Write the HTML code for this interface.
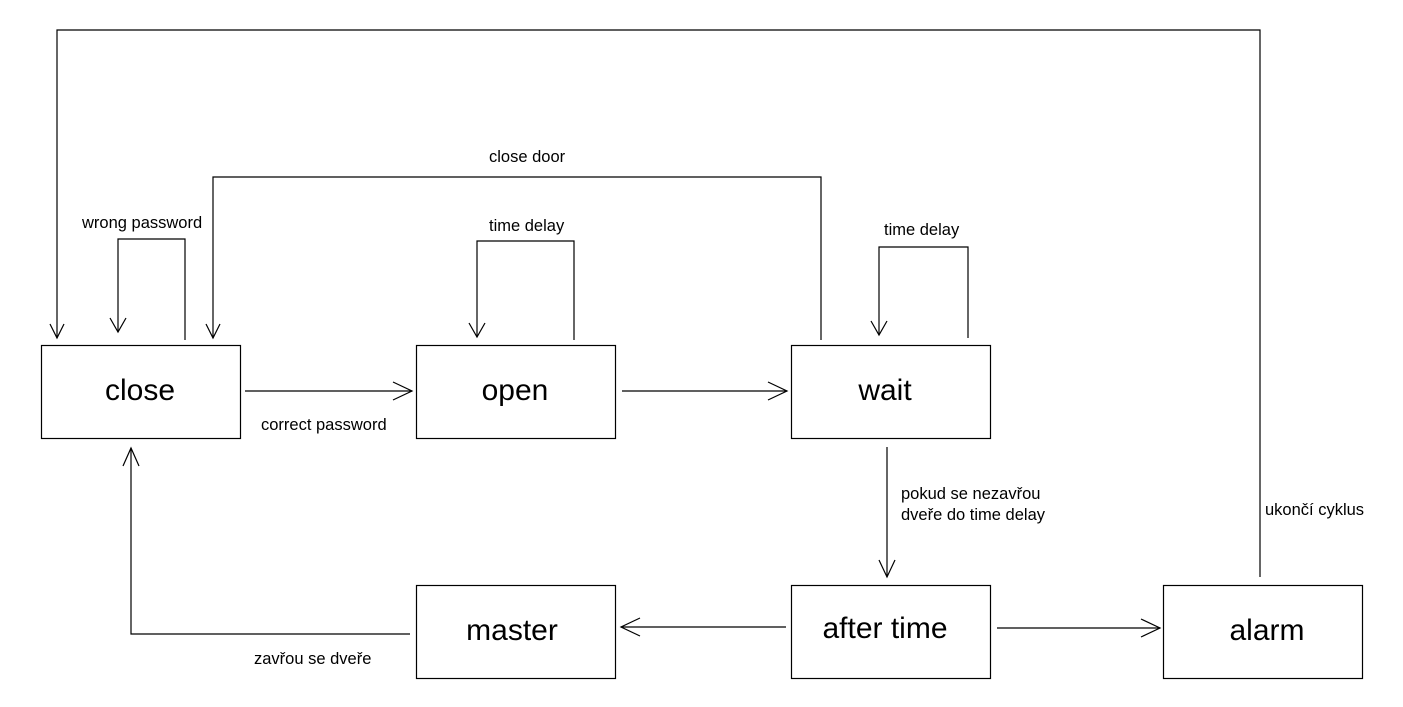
<!DOCTYPE html>
<html><head><meta charset="utf-8"><style>
html,body{margin:0;padding:0;background:#fff;}
svg{display:block;}
text{font-family:"Liberation Sans",sans-serif;fill:#000;}
.b{font-size:30px;text-anchor:middle;}
.l{font-size:16.5px;}
</style></head><body>
<svg width="1403" height="707" viewBox="0 0 1403 707" xmlns="http://www.w3.org/2000/svg">
<g fill="none" stroke="#000" stroke-width="1.2">
<rect x="41.5" y="345.5" width="199" height="93"/>
<rect x="416.5" y="345.5" width="199" height="93"/>
<rect x="791.5" y="345.5" width="199" height="93"/>
<rect x="416.5" y="585.5" width="199" height="93"/>
<rect x="791.5" y="585.5" width="199" height="93"/>
<rect x="1163.5" y="585.5" width="199" height="93"/>
<polyline points="1260,577 1260,30 57,30 57,338"/>
<polyline points="50,324 57,338 64,324"/>
<polyline points="821,340 821,177 213,177 213,338"/>
<polyline points="206,324 213,338 220,324"/>
<polyline points="185,340 185,239 118,239 118,332"/>
<polyline points="110,318 118,332 126,318"/>
<polyline points="574,340 574,241 477,241 477,337"/>
<polyline points="469,323 477,337 485,323"/>
<polyline points="968,338 968,247 879,247 879,335"/>
<polyline points="871,321 879,335 887,321"/>
<line x1="245" y1="391" x2="412" y2="391"/>
<polyline points="393,382 412,391 393,400"/>
<line x1="622" y1="391" x2="787" y2="391"/>
<polyline points="768,382 787,391 768,400"/>
<line x1="887" y1="447" x2="887" y2="577"/>
<polyline points="879,560 887,577 895,560"/>
<line x1="786" y1="627" x2="621" y2="627"/>
<polyline points="640,618 621,627 640,636"/>
<line x1="997" y1="628" x2="1160" y2="628"/>
<polyline points="1141,619 1160,628 1141,637"/>
<polyline points="410,634 131,634 131,448"/>
<polyline points="123,466 131,448 139,466"/>
</g>
<text class="b" x="140" y="400">close</text>
<text class="b" x="515" y="400">open</text>
<text class="b" x="885" y="400">wait</text>
<text class="b" x="512" y="640">master</text>
<text class="b" x="885" y="638">after time</text>
<text class="b" x="1267" y="640">alarm</text>
<text class="l" x="82" y="228">wrong password</text>
<text class="l" x="489" y="231">time delay</text>
<text class="l" x="884" y="235">time delay</text>
<text class="l" x="489" y="162">close door</text>
<text class="l" x="261" y="430">correct password</text>
<text class="l" x="901" y="499">pokud se nezavřou</text>
<text class="l" x="901" y="520">dveře do time delay</text>
<text class="l" x="1265" y="515">ukončí cyklus</text>
<text class="l" x="254" y="664">zavřou se dveře</text>
</svg>
</body></html>
